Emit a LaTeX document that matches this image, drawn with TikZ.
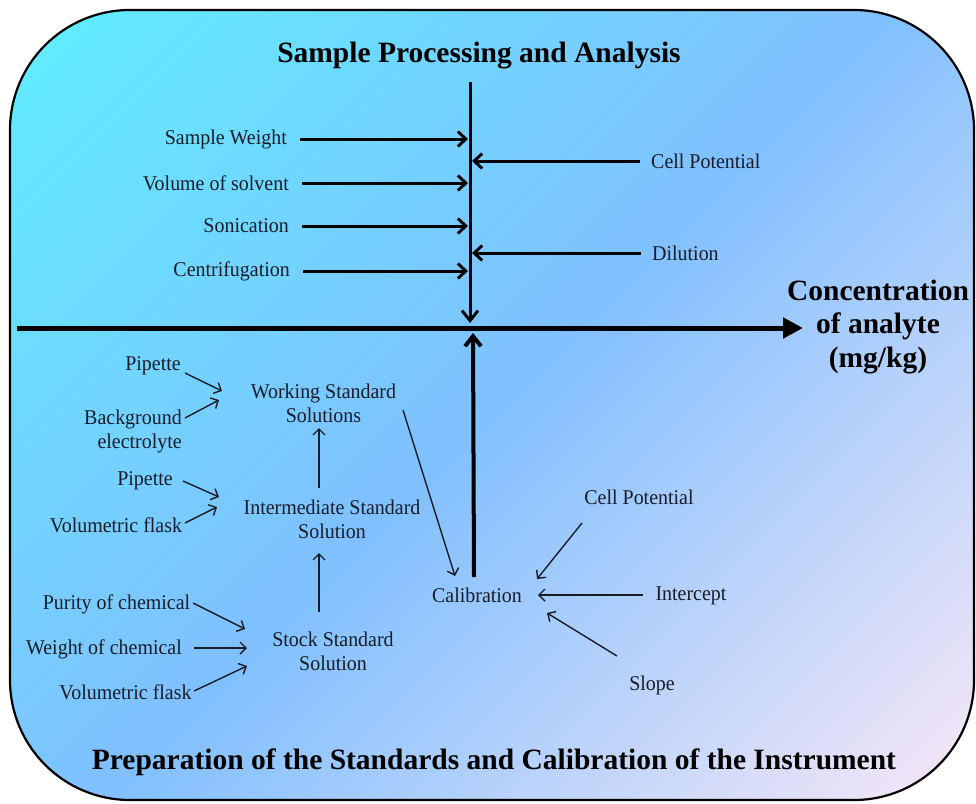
\documentclass[tikz,border=0pt]{standalone}
\usepackage{fontspec}
\setmainfont{Liberation Serif}
\newfontfamily\lblfont{Liberation Serif}[FakeStretch=0.95]
\usetikzlibrary{arrows.meta}
\definecolor{cA}{RGB}{98,234,255}
\definecolor{cB}{RGB}{128,192,255}
\definecolor{cC}{RGB}{244,230,246}
\definecolor{ink}{RGB}{24,28,40}
\pgfdeclarehorizontalshading{bgshade}{100bp}{color(0bp)=(cA); color(18bp)=(cA); color(50bp)=(cB); color(84bp)=(cC); color(100bp)=(cC)}
\begin{document}
\begin{tikzpicture}[x=1pt,y=-1pt,
  lbl/.style={font=\lblfont\fontsize{21}{24}\selectfont, text=ink, inner sep=0pt},
  ttl/.style={font=\fontsize{29.5}{33.5}\selectfont\bfseries, text=black, inner sep=0pt},
  thk/.style={line width=3pt, -{Straight Barb[length=8pt,width=15pt]}},
  thn/.style={line width=1.4pt, draw=ink, -{Straight Barb[length=6pt,width=12pt]}}
]
\useasboundingbox (0,0) rectangle (976,803);
\shade[shading=bgshade, shading angle=-45, rounded corners=120pt] (10,10) rectangle (974,800);
\draw[line width=2.2pt, rounded corners=120pt] (10,10) rectangle (974,800);

% titles
\node[ttl] (tTop) at (479,56) {Sample Processing and Analysis};
\node[ttl] (tBot) at (494,762) {Preparation of the Standards and Calibration of the Instrument};
\node[ttl, align=center] (conc) at (878,327) {Concentration\\of analyte\\(mg/kg)};

% spine and axis
\coordinate (spTop) at (470,82);
\coordinate (hub) at (470,328);
\coordinate (axL) at (17,328);
\coordinate (axR) at (803,328);
\draw[line width=5pt, -{Triangle[length=20pt,width=20pt]}] (axL) -- (axR);
\draw[line width=3pt, -{Straight Barb[length=10pt,width=16pt]}] (spTop) -- ([shift={(0,-5)}]hub);

% top labels
\node[lbl, anchor=east] (sw) at (287,139) {Sample Weight};
\node[lbl, anchor=east] (vs) at (289,183) {Volume of solvent};
\node[lbl, anchor=east] (son) at (289,226) {Sonication};
\node[lbl, anchor=east] (cen) at (290,271) {Centrifugation};
\node[lbl, anchor=west] (cp) at (651,161) {Cell Potential};
\node[lbl, anchor=west] (dil) at (652,253) {Dilution};
\foreach \n in {sw,vs,son,cen}
  \draw[thk, shorten >=2pt] ([shift={(13,0)}]\n.east) -- (\n.east -| spTop);
\foreach \n in {cp,dil}
  \draw[thk, shorten >=2pt] ([shift={(-11,0)}]\n.west) -- (\n.west -| spTop);

% lower labels
\node[lbl] (pip1) at (153,366) {Pipette};
\node[lbl, align=right] (bg) at (133,431) {Background\\electrolyte};
\node[lbl, align=center] (ws) at (323.5,403.5) {Working Standard\\Solutions};
\node[lbl] (pip2) at (145,481) {Pipette};
\node[lbl] (vf1) at (116,525) {Volumetric flask};
\node[lbl, align=center] (is) at (332,519.5) {Intermediate Standard\\Solution};
\node[lbl] (pc) at (116.5,604) {Purity of chemical};
\node[lbl] (wc) at (104,649) {Weight of chemical};
\node[lbl] (vf2) at (125.5,692) {Volumetric flask};
\node[lbl, align=center] (ss) at (333,651) {Stock Standard\\Solution};
\node[lbl] (cal) at (477,595) {Calibration};
\node[lbl] (cp2) at (639,497) {Cell Potential};
\node[lbl] (ic) at (691,596) {Intercept};
\node[lbl] (sl) at (652,685) {Slope};

\draw[thn] ([shift={(32,7)}]pip1.center) -- ([shift={(-101.5,-12.5)}]ws.center);
\draw[thn] ([shift={(52,-13)}]bg.center) -- ([shift={(-104.5,-3.5)}]ws.center);
\draw[thn] ([shift={(-13,-31.5)}]is.center) -- ([shift={(-4.5,24.5)}]ws.center);
\draw[thn] ([shift={(38,0)}]pip2.center) -- ([shift={(-113,-22.5)}]is.center);
\draw[thn] ([shift={(69,-2)}]vf1.center) -- ([shift={(-115,-12.5)}]is.center);
\draw[thn] ([shift={(-14,-39)}]ss.center) -- ([shift={(-13,33.5)}]is.center);
\draw[thn] ([shift={(76.5,-1)}]pc.center) -- ([shift={(-88,-22)}]ss.center);
\draw[thn] ([shift={(90,-1)}]wc.center) -- ([shift={(-86,-3)}]ss.center);
\draw[thn] ([shift={(68.5,-1)}]vf2.center) -- ([shift={(-86,15)}]ss.center);
\draw[thn] ([shift={(79.5,6.5)}]ws.center) -- ([shift={(-22,-19)}]cal.center);
\draw[thn] ([shift={(-57,26)}]cp2.center) -- ([shift={(60,-16)}]cal.center);
\draw[thn] ([shift={(-48,-1)}]ic.center) -- ([shift={(61,0)}]cal.center);
\draw[thn] ([shift={(-35,-29)}]sl.center) -- ([shift={(70,18)}]cal.center);
\draw[line width=4pt, -{Straight Barb[length=10pt,width=16pt]}] ([shift={(-3,-18)}]cal.center) -- ([shift={(3,5)}]hub);
\end{tikzpicture}
\end{document}
